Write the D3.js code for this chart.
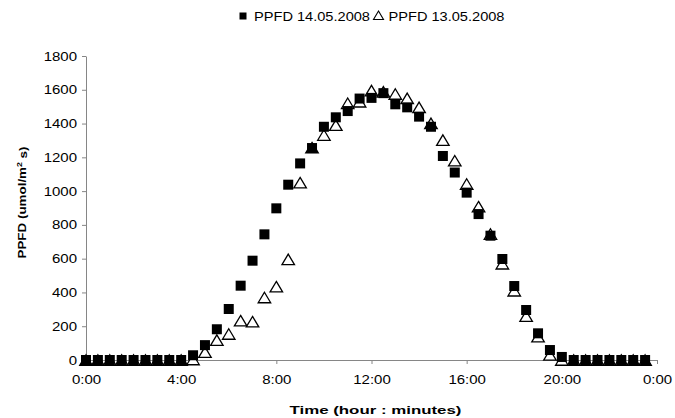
<!DOCTYPE html>
<html><head><meta charset="utf-8">
<script src="https://cdn.jsdelivr.net/npm/d3@7"></script>
<style>
html,body{margin:0;padding:0;background:#fff;}
svg{display:block;font-family:"Liberation Sans",Arial,sans-serif;}
</style></head>
<body>
<svg id="c" width="675" height="418"></svg>
<script>
// Time in hours (half-hour readings)
const hours = [0,0.5,1,1.5,2,2.5,3,3.5,4,4.5,5,5.5,6,6.5,7,7.5,8,8.5,9,9.5,10,10.5,11,11.5,
               12,12.5,13,13.5,14,14.5,15,15.5,16,16.5,17,17.5,18,18.5,19,19.5,20,20.5,21,21.5,22,22.5,23,23.5];
// PPFD 14.05.2008 (filled squares)
const ppfd14 = [0,0,0,0,0,0,0,0,0,28,88,182,302,440,588,744,898,1038,1164,1255,1381,1437,1474,1548,
                1552,1580,1514,1496,1441,1381,1208,1110,991,864,736,598,438,296,158,59,18,0,0,0,0,0,0,0];
// PPFD 13.05.2008 (open triangles)
const ppfd13 = [0,0,0,0,0,0,0,0,0,3,47,118,154,233,227,370,434,596,1050,1257,1332,1391,1520,1529,
                1595,1588,1575,1549,1496,1401,1302,1180,1042,908,746,570,410,260,138,30,0,0,0,0,0,0,0,0];
const xTickValues = [0,4,8,12,16,20,24];
const xTickLabels = ["0:00","4:00","8:00","12:00","16:00","20:00","0:00"];
const yTickValues = [0,200,400,600,800,1000,1200,1400,1600,1800];
const seriesNames = ["PPFD 14.05.2008","PPFD 13.05.2008"];

const svg = d3.select("#c");
const x = d3.scaleLinear().domain([0,24]).range([86,657]);
const y = d3.scaleLinear().domain([0,1800]).range([360,56]);
const axisColor = "#868686";
const SX = 1.25;

// Y axis
const gy = svg.append("g").attr("transform","translate(86,0)")
  .call(d3.axisLeft(y).tickValues(yTickValues).tickSize(4).tickSizeOuter(0).tickFormat(d3.format("d")));
gy.select(".domain").attr("stroke",axisColor);
gy.selectAll(".tick line").attr("stroke",axisColor);
gy.selectAll(".tick text").attr("x",0).attr("dy","0.34em").attr("text-anchor","end")
  .attr("transform",`translate(-9,0) scale(${SX},1)`)
  .attr("fill","#000").style("font-size","12px").style("font-family",'"Liberation Sans",Arial,sans-serif');

// X axis
const gx = svg.append("g").attr("transform","translate(0,360)")
  .call(d3.axisBottom(x).tickValues(xTickValues).tickSize(4).tickSizeOuter(0)
    .tickFormat((d,i)=>xTickLabels[i]));
gx.select(".domain").attr("stroke",axisColor);
gx.selectAll(".tick line").attr("stroke",axisColor);
gx.selectAll(".tick text").attr("y",0).attr("dy",0).attr("text-anchor","middle")
  .attr("transform",`translate(0,24) scale(${SX},1)`)
  .attr("fill","#000").style("font-size","12px").style("font-family",'"Liberation Sans",Arial,sans-serif');

// Triangle path generator
const triW = 12.5, triH = 10.5;
const triPath = `M0,${-triH/2}L${triW/2},${triH/2}L${-triW/2},${triH/2}Z`;

// Series 13.05 triangles (drawn first, squares on top)
svg.append("g").selectAll("path").data(hours.map((h,i)=>({h,v:ppfd13[i]}))).join("path")
  .attr("d",triPath)
  .attr("transform",d=>`translate(${x(d.h)},${y(d.v)})`)
  .attr("fill","#fff").attr("stroke","#000").attr("stroke-width",1.3);

// Series 14.05 squares
const sq = 10;
svg.append("g").selectAll("rect").data(hours.map((h,i)=>({h,v:ppfd14[i]}))).join("rect")
  .attr("x",d=>x(d.h)-sq/2).attr("y",d=>y(d.v)-sq/2)
  .attr("width",sq).attr("height",sq).attr("fill","#000");

// Legend
const lg = svg.append("g");
lg.append("rect").attr("x",239.5).attr("y",12.5).attr("width",7).attr("height",7).attr("fill","#000");
lg.append("text").attr("x",254).attr("y",20.5).text(seriesNames[0])
  .attr("textLength",116).attr("lengthAdjust","spacingAndGlyphs").style("font-size","12px");
lg.append("path").attr("d","M0,-4.5L5,4L-5,4Z").attr("transform","translate(378.5,15.5)")
  .attr("fill","#fff").attr("stroke","#000").attr("stroke-width",1.1);
lg.append("text").attr("x",388.5).attr("y",20.5).text(seriesNames[1])
  .attr("textLength",116).attr("lengthAdjust","spacingAndGlyphs").style("font-size","12px");

// Axis titles
svg.append("text").attr("x",375.5).attr("y",414).attr("text-anchor","middle")
  .attr("font-weight","bold").style("font-size","11.5px")
  .attr("textLength",172).attr("lengthAdjust","spacingAndGlyphs")
  .text("Time (hour : minutes)");

const yt = svg.append("text").attr("transform","translate(25.5,202.5) rotate(-90)")
  .attr("text-anchor","middle").attr("font-weight","bold").style("font-size","11.5px")
  .attr("textLength",112).attr("lengthAdjust","spacingAndGlyphs");
yt.append("tspan").text("PPFD (umol/m");
yt.append("tspan").attr("dy","-0.45em").style("font-size","7.5px").text("2");
yt.append("tspan").attr("dy","0.45em").text(" s)");
</script>
</body></html>
